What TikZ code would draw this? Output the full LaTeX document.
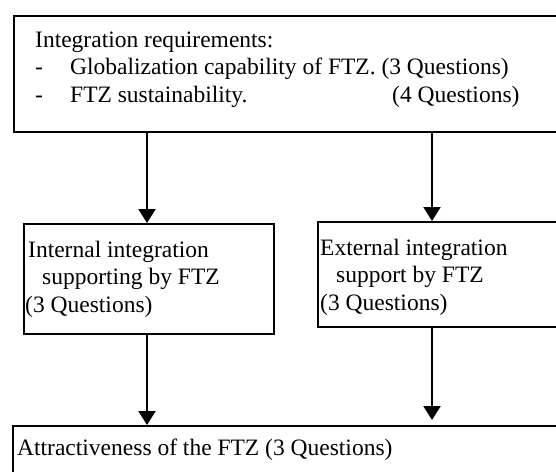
\documentclass[tikz,border=0pt]{standalone}
\usepackage{fontspec}
\setmainfont{Liberation Serif}
\usetikzlibrary{arrows.meta}
\tikzset{
  box/.style={draw=black, line width=1.8pt, rectangle, inner sep=0pt, anchor=north west},
  txt/.style={inner sep=0pt, anchor=base west, align=left, font=\fontsize{23.5}{27.5}\selectfont},
  arr/.style={line width=2.2pt, -{Triangle[length=14pt,width=17pt]}}
}
\begin{document}
\begin{tikzpicture}[x=1pt,y=1pt]
\useasboundingbox (0,0) rectangle (556,-471);
\clip (0,0) rectangle (556,-471);
% boxes
\node[box, minimum width=600pt, minimum height=116pt] (req) at (13,-15) {};
\node[box, minimum width=250pt, minimum height=110pt] (int) at (23,-223) {};
\node[box, minimum width=300pt, minimum height=105pt] (ext) at (317,-221) {};
\node[box, minimum width=600pt, minimum height=100pt] (att) at (12,-425) {};
% texts
\node[txt] (reqt) at (35,-102) {Integration requirements:\\
\makebox[35pt][l]{-}\makebox[0pt][l]{Globalization capability of FTZ. (3 Questions)}\\
\makebox[35pt][l]{-}\makebox[322pt][l]{FTZ sustainability.}(4 Questions)};
\node[txt] (intt) at (25,-312) {\hspace{3pt}Internal integration\\
\hspace{17pt}supporting by FTZ\\
(3 Questions)};
\node[txt] (extt) at (320,-310) {External integration\\
\hspace{16pt}support by FTZ\\
(3 Questions)};
\node[txt] (attt) at (17,-455) {Attractiveness of the FTZ (3 Questions)};
% arrows
\coordinate (lx) at (147,0);
\coordinate (rx) at (432,0);
\draw[arr] (req.south -| lx) -- (int.north -| lx);
\draw[arr] (req.south -| rx) -- (ext.north -| rx);
\draw[arr] (int.south -| lx) -- (att.north -| lx);
\draw[arr, shorten >=5pt] (ext.south -| rx) -- (att.north -| rx);
\end{tikzpicture}
\end{document}
